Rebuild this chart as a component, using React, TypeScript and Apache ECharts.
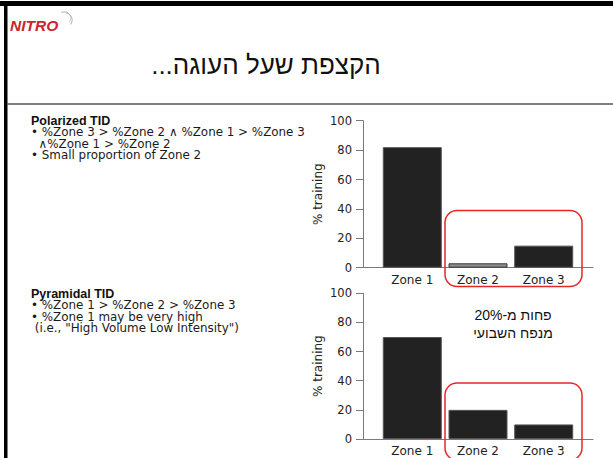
import React, { useEffect, useRef } from "react";
import * as echarts from "echarts";

// Training-intensity distribution (share of training per zone)
const zones = ["Zone 1", "Zone 2", "Zone 3"];
const polarizedValues = [82, 3, 15];
const pyramidalValues = [70, 20, 10];
const zonePositions = [1, 2, 3];

const titleText = "הקצפת שעל העוגה...";
const noteLines = ["פחות מ-20%", "מנפח השבועי"];
const polarizedHeading = "Polarized TID";
const polarizedLines = [
  "• %Zone 3 > %Zone 2 ∧ %Zone 1 > %Zone 3",
  "  ∧%Zone 1 > %Zone 2",
  "• Small proportion of Zone 2",
];
const pyramidalHeading = "Pyramidal TID";
const pyramidalLines = [
  "• %Zone 1 > %Zone 2 > %Zone 3",
  "• %Zone 1 may be very high",
  " (i.e., \"High Volume Low Intensity\")",
];

const FONT = "'Liberation Sans', Arial, Helvetica, sans-serif";
const BODY_FONT = "'DejaVu Sans', 'Liberation Sans', sans-serif";
const HEAD_FONT = "'Liberation Sans Narrow', 'Arial Narrow', 'Liberation Sans', sans-serif";
const AXIS_GRAY = "#7a7a7a";
const BAR_DARK = "#222222";

function zoneBars(values: number[], highlightGray: boolean) {
  return values.map((v, i) => ({
    value: [zonePositions[i], v],
    itemStyle:
      highlightGray && i === 1
        ? { color: "#8c8c8c", borderColor: "#3a3a3a", borderWidth: 1 }
        : { color: BAR_DARK, borderColor: "#555", borderWidth: 1 },
  }));
}

// heading + bullet lines drawn as one rich text block with tight leading
function textBlock(heading: string, lines: string[], x: number, firstCenter: number, step: number) {
  return {
    type: "text",
    x,
    y: firstCenter - step / 2,
    style: {
      text: [`{h|${heading}}`, ...lines.map((l) => `{t|${l}}`)].join("\n"),
      textVerticalAlign: "top",
      rich: {
        h: { fontFamily: HEAD_FONT, fontWeight: "bold", fontSize: 12.5, fill: "#111", lineHeight: step },
        t: { fontFamily: BODY_FONT, fontSize: 11.9, fill: "#1a1a1a", lineHeight: step },
      },
    },
  };
}

export default function App() {
  const ref = useRef<HTMLDivElement>(null);

  useEffect(() => {
    document.body.style.margin = "0";
    if (!ref.current) return;
    const chart = echarts.init(ref.current, undefined, { renderer: "svg" });

    const xAxisBase = {
      type: "value",
      min: 0.25,
      max: 3.75,
      axisLine: { show: true, lineStyle: { color: AXIS_GRAY, width: 1 } },
      axisTick: { show: false },
      splitLine: { show: false },
      axisLabel: {
        customValues: zonePositions,
        formatter: (v: number) => zones[Math.round(v) - 1] ?? "",
        color: "#222",
        fontFamily: BODY_FONT,
        fontSize: 12,
        margin: 6,
      },
    };
    const yAxisBase = {
      type: "value",
      min: 0,
      max: 100,
      interval: 20,
      name: "% training",
      nameLocation: "middle",
      nameGap: 39,
      nameRotate: 90,
      nameTextStyle: { color: "#222", fontFamily: BODY_FONT, fontSize: 12 },
      axisLine: { show: true, lineStyle: { color: AXIS_GRAY, width: 1 } },
      axisTick: { show: true, length: 7, lineStyle: { color: AXIS_GRAY } },
      splitLine: { show: false },
      axisLabel: { color: "#222", fontFamily: BODY_FONT, fontSize: 11.5, margin: 11 },
    };

    chart.setOption({
      animation: false,
      backgroundColor: "#ffffff",
      grid: [
        { left: 363, right: 20, top: 120.7, height: 147 },
        { left: 363, right: 20, top: 293.3, height: 145.7 },
      ],
      xAxis: [
        { ...xAxisBase, gridIndex: 0 },
        { ...xAxisBase, gridIndex: 1 },
      ],
      yAxis: [
        { ...yAxisBase, gridIndex: 0 },
        { ...yAxisBase, gridIndex: 1 },
      ],
      series: [
        {
          type: "bar",
          xAxisIndex: 0,
          yAxisIndex: 0,
          barWidth: 59,
          data: zoneBars(polarizedValues, true),
        },
        {
          type: "bar",
          xAxisIndex: 1,
          yAxisIndex: 1,
          barWidth: 59,
          data: zoneBars(pyramidalValues, false),
        },
      ],
      graphic: [
        // slide frame
        { type: "rect", shape: { x: 0, y: 1, width: 613, height: 5 }, style: { fill: "#000" } },
        { type: "rect", shape: { x: 4, y: 1, width: 3.5, height: 460 }, style: { fill: "#000" } },
        {
          type: "line",
          shape: { x1: 7, y1: 104, x2: 613, y2: 104 },
          style: { stroke: "#555", lineWidth: 1.5 },
        },
        // logo
        {
          type: "text",
          x: 10,
          y: 25,
          style: {
            text: "NITRO",
            fill: "#c8262e",
            font: `italic bold 15.5px ${FONT}`,
            textVerticalAlign: "middle",
          },
        },
        {
          type: "arc",
          shape: { cx: 64, cy: 20, r: 8, startAngle: -1.9, endAngle: 0.6 },
          style: { stroke: "#9a9a9a", lineWidth: 0.8, fill: "none" },
        },
        {
          type: "arc",
          shape: { cx: 66, cy: 18, r: 5, startAngle: -1.6, endAngle: 0.9 },
          style: { stroke: "#b0b0b0", lineWidth: 0.7, fill: "none" },
        },
        // title
        {
          type: "text",
          x: 266,
          y: 65,
          style: {
            text: titleText + "\u200F",
            fill: "#111",
            font: `26px ${FONT}`,
            textAlign: "center",
            textVerticalAlign: "middle",
          },
        },
        // descriptions
        textBlock(polarizedHeading, polarizedLines, 31, 121, 11.4),
        textBlock(pyramidalHeading, pyramidalLines, 31, 294, 11.4),
        // highlighted zones
        {
          type: "rect",
          shape: { x: 445, y: 210.5, width: 137, height: 76, r: 12 },
          style: { stroke: "#e8262a", lineWidth: 1.5, fill: "none" },
          z: 100,
        },
        {
          type: "rect",
          shape: { x: 445, y: 383, width: 137, height: 77, r: 12 },
          style: { stroke: "#e8262a", lineWidth: 1.5, fill: "none" },
          z: 100,
        },
        // annotation
        ...noteLines.map((t, i) => ({
          type: "text",
          x: 513,
          y: 315 + i * 18,
          style: {
            text: t,
            fill: "#111",
            font: `14px ${FONT}`,
            textAlign: "center",
            textVerticalAlign: "middle",
          },
        })),
      ],
    });

    return () => chart.dispose();
  }, []);

  return <div ref={ref} style={{ width: 613, height: 458 }} />;
}
